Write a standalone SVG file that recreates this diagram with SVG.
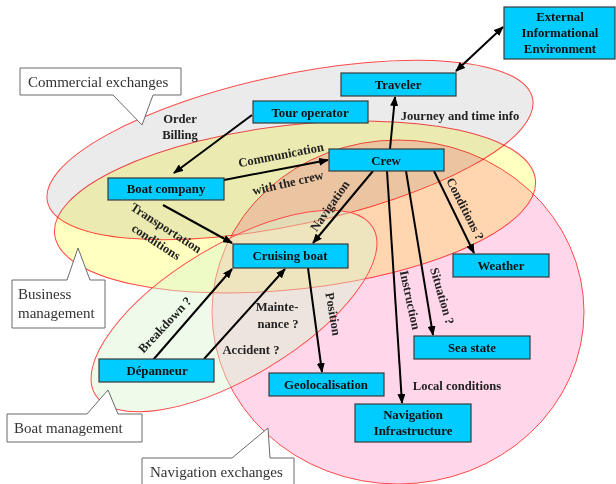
<svg xmlns="http://www.w3.org/2000/svg" width="616" height="484" viewBox="0 0 616 484">
<defs>
<marker id="ah" markerUnits="userSpaceOnUse" markerWidth="10" markerHeight="8" refX="9" refY="4" orient="auto-start-reverse">
<path d="M0,0 L10,4 L0,8 Z" fill="#000"/>
</marker>
</defs>
<style>
.ell{stroke:#ff4a4a;stroke-width:1;mix-blend-mode:multiply}
.node rect{fill:#00ccff;stroke:#3a3a3a;stroke-width:1.2}
.node text{font-family:"Liberation Serif",serif;font-weight:bold;font-size:12.8px;fill:#111;text-anchor:middle}
.lbl{font-family:"Liberation Serif",serif;font-weight:bold;font-size:12.6px;fill:#222;text-anchor:middle}
.co path{fill:#fff;stroke:#6a6a6a;stroke-width:1}
.co text{font-family:"Liberation Serif",serif;font-size:15px;fill:#333}
#connectors line{stroke:#000;stroke-width:2;marker-end:url(#ah)}
</style>
<rect width="616" height="484" fill="#fff"/>
<g id="zones">
<ellipse class="ell" rx="248" ry="75" transform="translate(290,150) rotate(-12)" fill="#ebebeb"/>
<ellipse class="ell" rx="242" ry="82" transform="translate(295,207) rotate(-6.5)" fill="#ffffc0"/>
<ellipse class="ell" cx="398" cy="312" rx="186" ry="172" fill="#ffd6ea"/>
<ellipse rx="162" ry="66" transform="translate(234,311) rotate(-31)" fill="#d8f6cf" fill-opacity="0.44" stroke="#ff4a4a" stroke-width="1"/>
</g>
<g id="connectors">
<line x1="456" y1="71" x2="503" y2="27" marker-start="url(#ah)"/>
<line x1="390" y1="149" x2="395" y2="97"/>
<line x1="252" y1="115" x2="174" y2="173"/>
<line x1="224" y1="180" x2="328" y2="160"/>
<line x1="163" y1="205" x2="232" y2="243"/>
<line x1="373" y1="171" x2="313" y2="243"/>
<line x1="434" y1="171" x2="474" y2="253"/>
<line x1="406" y1="171" x2="433" y2="335"/>
<line x1="387" y1="171" x2="402" y2="403"/>
<line x1="308" y1="268" x2="322" y2="372"/>
<line x1="153" y1="360" x2="232" y2="269"/>
<line x1="204" y1="359" x2="285" y2="269"/>
</g>
<g id="labels">
<text class="lbl" x="180" y="123">Order</text>
<text class="lbl" x="180" y="139">Billing</text>
<text class="lbl" x="460" y="120">Journey and time info</text>
<text class="lbl" transform="translate(281,155) rotate(-11)" y="4">Communication</text>
<text class="lbl" transform="translate(288,183) rotate(-13)" y="4">with the crew</text>
<text class="lbl" transform="translate(166,228) rotate(33)" y="4">Transportation</text>
<text class="lbl" transform="translate(156,242) rotate(33)" y="4">conditions</text>
<text class="lbl" transform="translate(330,206) rotate(-55)" y="4">Navigation</text>
<text class="lbl" transform="translate(465,209) rotate(63)" y="4">Conditions ?</text>
<text class="lbl" transform="translate(442,296) rotate(74)" y="4">Situation ?</text>
<text class="lbl" transform="translate(410,300) rotate(78)" y="4">Instruction</text>
<text class="lbl" transform="translate(333,314) rotate(80)" y="4">Position</text>
<text class="lbl" transform="translate(165,325) rotate(-47)" y="4">Breakdown ?</text>
<text class="lbl" x="277" y="311">Mainte-</text>
<text class="lbl" x="278" y="328">nance ?</text>
<text class="lbl" x="251" y="354">Accident ?</text>
<text class="lbl" x="457" y="390">Local conditions</text>
</g>
<g id="ext" class="node"><rect x="504" y="7" width="111" height="52"/><text x="560" y="21">External</text><text x="560" y="37">Informational</text><text x="560" y="53">Environment</text></g>
<g id="traveler" class="node"><rect x="341" y="73" width="115" height="23"/><text x="398" y="89">Traveler</text></g>
<g id="tour" class="node"><rect x="253" y="101" width="115" height="22"/><text x="310" y="117">Tour operator</text></g>
<g id="crew" class="node"><rect x="329" y="149" width="115" height="22"/><text x="386" y="165">Crew</text></g>
<g id="boatco" class="node"><rect x="108" y="178" width="116" height="22"/><text x="166" y="193">Boat company</text></g>
<g id="cruising" class="node"><rect x="233" y="244" width="115" height="24"/><text x="290" y="260">Cruising boat</text></g>
<g id="weather" class="node"><rect x="453" y="254" width="96" height="23"/><text x="501" y="270">Weather</text></g>
<g id="seastate" class="node"><rect x="414" y="336" width="116" height="23"/><text x="472" y="352">Sea state</text></g>
<g id="geoloc" class="node"><rect x="269" y="373" width="115" height="23"/><text x="326" y="389">Geolocalisation</text></g>
<g id="navinfra" class="node"><rect x="355" y="404" width="116" height="38"/><text x="413" y="419">Navigation</text><text x="413" y="435">Infrastructure</text></g>
<g id="depanneur" class="node"><rect x="99" y="359" width="115" height="23"/><text x="157" y="375">Dépanneur</text></g>
<g id="co-commercial" class="co"><path d="M20,68 H181 V95 H153 L142,125 L113,95 H20 Z"/><text x="28" y="87">Commercial exchanges</text></g>
<g id="co-business" class="co"><path d="M12,280 H67 L78,248 L90,280 H105 V328 H12 Z"/><text x="18" y="299">Business</text><text x="18" y="318">management</text></g>
<g id="co-boat" class="co"><path d="M7,414 H87 L108,390 L118,414 H142 V442 H7 Z"/><text x="14" y="433">Boat management</text></g>
<g id="co-nav" class="co"><path d="M142,458 H232 L268,428 L270,458 H294 V492 H142 Z"/><text x="150" y="477">Navigation exchanges</text></g>
</svg>
